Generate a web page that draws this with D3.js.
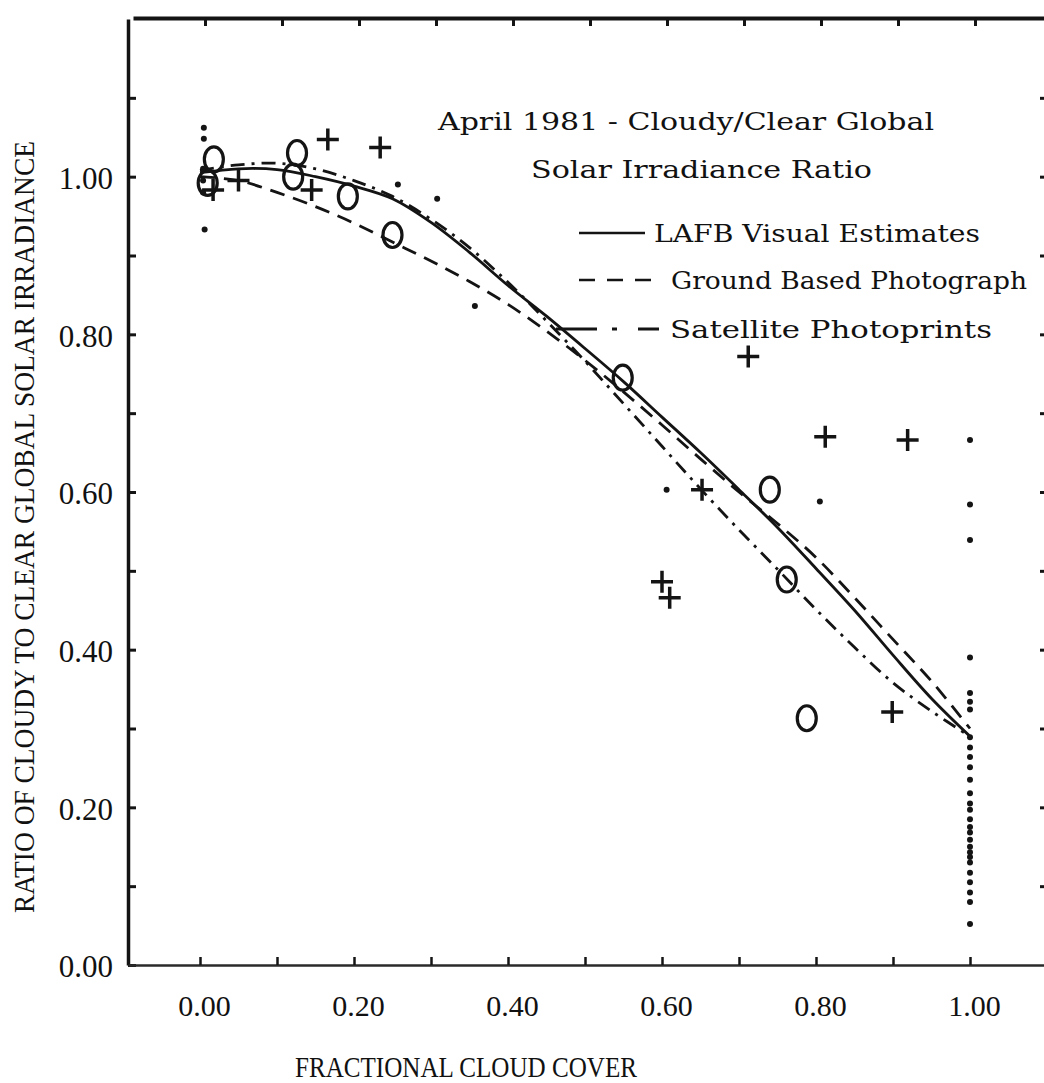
<!DOCTYPE html>
<html>
<head>
<meta charset="utf-8">
<script src="https://cdn.jsdelivr.net/npm/d3@7"></script>
<style>
  html, body { margin: 0; padding: 0; background: #fff; }
  svg { display: block; }
  text { fill: #111; }
</style>
</head>
<body>
<svg id="chart" width="1044" height="1083"></svg>
<script>
// ---------------- data ----------------
const curveX = [0, 0.05, 0.10, 0.15, 0.20, 0.25, 0.30, 0.35, 0.40, 0.45, 0.50,
                0.55, 0.60, 0.65, 0.70, 0.75, 0.80, 0.85, 0.90, 0.95, 1.00];
const lafbCurve = [1.005, 1.010, 1.009, 1.000, 0.988, 0.972, 0.942, 0.904, 0.862, 0.823, 0.782,
                   0.740, 0.695, 0.650, 0.603, 0.555, 0.503, 0.450, 0.393, 0.338, 0.290];
const groundCurve = [1.000, 0.995, 0.980, 0.962, 0.941, 0.917, 0.893, 0.867, 0.838, 0.804, 0.767,
                     0.727, 0.685, 0.642, 0.600, 0.560, 0.517, 0.466, 0.413, 0.360, 0.300];
const satelliteCurve = [1.008, 1.015, 1.017, 1.010, 0.995, 0.975, 0.946, 0.910, 0.866, 0.817, 0.766,
                        0.712, 0.658, 0.604, 0.552, 0.502, 0.451, 0.403, 0.358, 0.322, 0.290];

// "O" observations
const circleX = [0.018, 0.010, 0.126, 0.121, 0.192, 0.250, 0.549, 0.740, 0.762, 0.788];
const circleY = [1.022, 0.992, 1.030, 1.000, 0.975, 0.926, 0.745, 0.603, 0.489, 0.313];
// "+" observations
const plusX = [0.017, 0.050, 0.166, 0.145, 0.234, 0.712, 0.812, 0.919, 0.652, 0.600, 0.610, 0.899];
const plusY = [0.983, 0.995, 1.047, 0.983, 1.037, 0.772, 0.670, 0.666, 0.603, 0.486, 0.466, 0.321];
// "." observations
const dotX = [0.005, 0.005, 0.004, 0.004, 0.004, 0.006, 0.257, 0.308, 0.357, 0.606, 0.805,
              1.0, 1.0, 1.0, 1.0, 1.0, 1.0, 1.0, 1.0, 1.0, 1.0, 1.0, 1.0, 1.0, 1.0,
              1.0, 1.0, 1.0, 1.0, 1.0, 1.0, 1.0, 1.0, 1.0, 1.0, 1.0, 1.0, 1.0, 1.0];
const dotY = [1.062, 1.048, 1.010, 0.995, 0.980, 0.933, 0.990, 0.972, 0.836, 0.603, 0.588,
              0.666, 0.584, 0.539, 0.390, 0.345, 0.334, 0.324, 0.289, 0.276, 0.264, 0.251, 0.235, 0.218,
              0.205, 0.197, 0.185, 0.175, 0.168, 0.159, 0.150, 0.143, 0.137, 0.130, 0.117, 0.105, 0.092,
              0.080, 0.052];

const xTicks = [0, 0.1, 0.2, 0.3, 0.4, 0.5, 0.6, 0.7, 0.8, 0.9, 1.0];
const xTickLabels = ["0.00", "", "0.20", "", "0.40", "", "0.60", "", "0.80", "", "1.00"];
const yTicks = [0, 0.1, 0.2, 0.3, 0.4, 0.5, 0.6, 0.7, 0.8, 0.9, 1.0, 1.1];
const yTickLabels = ["0.00", "", "0.20", "", "0.40", "", "0.60", "", "0.80", "", "1.00", ""];

const titleLines = ["April 1981 - Cloudy/Clear Global", "Solar Irradiance Ratio"];
const seriesNames = ["LAFB Visual Estimates", "Ground Based Photograph", "Satellite Photoprints"];
const xTitle = "FRACTIONAL CLOUD COVER";
const yTitle = "RATIO  OF CLOUDY TO CLEAR GLOBAL SOLAR IRRADIANCE";

// ---------------- drawing ----------------
const svg = d3.select("#chart");
const ink = "#141414";
const axisFont = "'Liberation Serif', serif";
const legendFont = "'DejaVu Serif', 'Liberation Serif', serif";

const x = d3.scaleLinear().domain([-0.0935, 1.1]).range([128, 1047]);
const y = d3.scaleLinear().domain([0, 1.2]).range([965, 19]);

// frame / axes
const yAxis = d3.axisLeft(y).tickValues(yTicks).tickSizeInner(-8).tickSizeOuter(0).tickPadding(15)
  .tickFormat((d, i) => yTickLabels[i]);
const gy = svg.append("g").attr("transform", "translate(128,0)").call(yAxis);
gy.select(".domain").attr("stroke", ink).attr("stroke-width", 3.5);
gy.selectAll(".tick line").attr("stroke", ink).attr("stroke-width", 3);
gy.selectAll(".tick text").attr("font-size", 31).style("font-family", axisFont).attr("fill", ink)
  .attr("dy", "0.38em");

const xAxis = d3.axisBottom(x).tickValues(xTicks).tickSizeInner(-8).tickSizeOuter(0).tickPadding(40)
  .tickFormat((d, i) => xTickLabels[i]);
const gx = svg.append("g").attr("transform", "translate(0,965)").call(xAxis);
gx.select(".domain").attr("stroke", "#2a2a2a").attr("stroke-width", 2.4);
gx.selectAll(".tick line").attr("stroke", ink).attr("stroke-width", 2.5);
gx.selectAll(".tick text").attr("font-size", 30).style("font-family", axisFont).attr("fill", ink)
  .attr("dy", "0.35em").attr("dx", 4);

const topAxis = d3.axisTop(x).tickValues(xTicks).tickSizeInner(-8).tickSizeOuter(0).tickFormat("");
const gt = svg.append("g").attr("transform", "translate(5,18)").call(topAxis);
gt.select(".domain").attr("stroke", ink).attr("stroke-width", 4);
gt.selectAll(".tick line").attr("stroke", ink).attr("stroke-width", 3);

const rightAxis = d3.axisRight(y).tickValues(yTicks.slice(1)).tickSizeInner(-7).tickSizeOuter(0).tickFormat("");
const gr = svg.append("g").attr("transform", "translate(1047,0)").call(rightAxis);
gr.select(".domain").attr("stroke", ink).attr("stroke-width", 3);
gr.selectAll(".tick line").attr("stroke", ink).attr("stroke-width", 3);

// axis titles
svg.append("text").attr("x", 466).attr("y", 1077).attr("text-anchor", "middle").style("font-family", axisFont)
  .attr("font-size", 30).attr("textLength", 342).attr("lengthAdjust", "spacingAndGlyphs").text(xTitle);
svg.append("text").attr("transform", "translate(34,527) rotate(-90)").attr("text-anchor", "middle")
  .style("font-family", axisFont)
  .attr("font-size", 30).attr("textLength", 772).attr("lengthAdjust", "spacingAndGlyphs").text(yTitle);

// curves
const line = d3.line().x(d => x(d[0])).y(d => y(d[1])).curve(d3.curveCatmullRom.alpha(0.5));
const curves = [
  { vals: lafbCurve, dash: null },
  { vals: groundCurve, dash: "15,9" },
  { vals: satelliteCurve, dash: "14,7,3,7" }
];
curves.forEach(c => {
  svg.append("path").datum(curveX.map((v, i) => [v, c.vals[i]]))
    .attr("d", line).attr("fill", "none").attr("stroke", ink).attr("stroke-width", 2.8)
    .attr("stroke-dasharray", c.dash);
});

// markers
svg.append("g").selectAll("ellipse").data(circleX.map((v, i) => [v, circleY[i]])).join("ellipse")
  .attr("cx", d => x(d[0])).attr("cy", d => y(d[1])).attr("rx", 9.5).attr("ry", 12.5)
  .attr("fill", "none").attr("stroke", ink).attr("stroke-width", 3.2);

svg.append("g").selectAll("path").data(plusX.map((v, i) => [v, plusY[i]])).join("path")
  .attr("d", d => {
    const cx = x(d[0]), cy = y(d[1]);
    return `M${cx - 11},${cy}H${cx + 11}M${cx},${cy - 11}V${cy + 11}`;
  })
  .attr("stroke", ink).attr("stroke-width", 3.5).attr("fill", "none");

svg.append("g").selectAll("circle").data(dotX.map((v, i) => [v, dotY[i]])).join("circle")
  .attr("cx", d => x(d[0])).attr("cy", d => y(d[1])).attr("r", 3).attr("fill", ink);

// legend / title block
svg.append("text").attr("x", 438).attr("y", 130).attr("font-size", 25).style("font-family", legendFont)
  .attr("textLength", 496).attr("lengthAdjust", "spacingAndGlyphs").text(titleLines[0]);
svg.append("text").attr("x", 531).attr("y", 178).attr("font-size", 25).style("font-family", legendFont)
  .attr("textLength", 341).attr("lengthAdjust", "spacingAndGlyphs").text(titleLines[1]);

const legendRows = [
  { y: 233, textX: 654, textW: 326, sx0: 579, sx1: 645, dash: null },
  { y: 280, textX: 671, textW: 356, sx0: 579, sx1: 659, dash: "16,12" },
  { y: 329, textX: 670, textW: 322, sx0: 556, sx1: 659, dash: "41,15,5,21,21" }
];
legendRows.forEach((r, i) => {
  svg.append("line").attr("x1", r.sx0).attr("x2", r.sx1).attr("y1", r.y).attr("y2", r.y)
    .attr("stroke", ink).attr("stroke-width", i === 2 ? 3.2 : 2.6).attr("stroke-dasharray", r.dash);
  svg.append("text").attr("x", r.textX).attr("y", r.y + 9).attr("font-size", 25).style("font-family", legendFont)
    .attr("textLength", r.textW).attr("lengthAdjust", "spacingAndGlyphs").text(seriesNames[i]);
});
</script>
</body>
</html>
